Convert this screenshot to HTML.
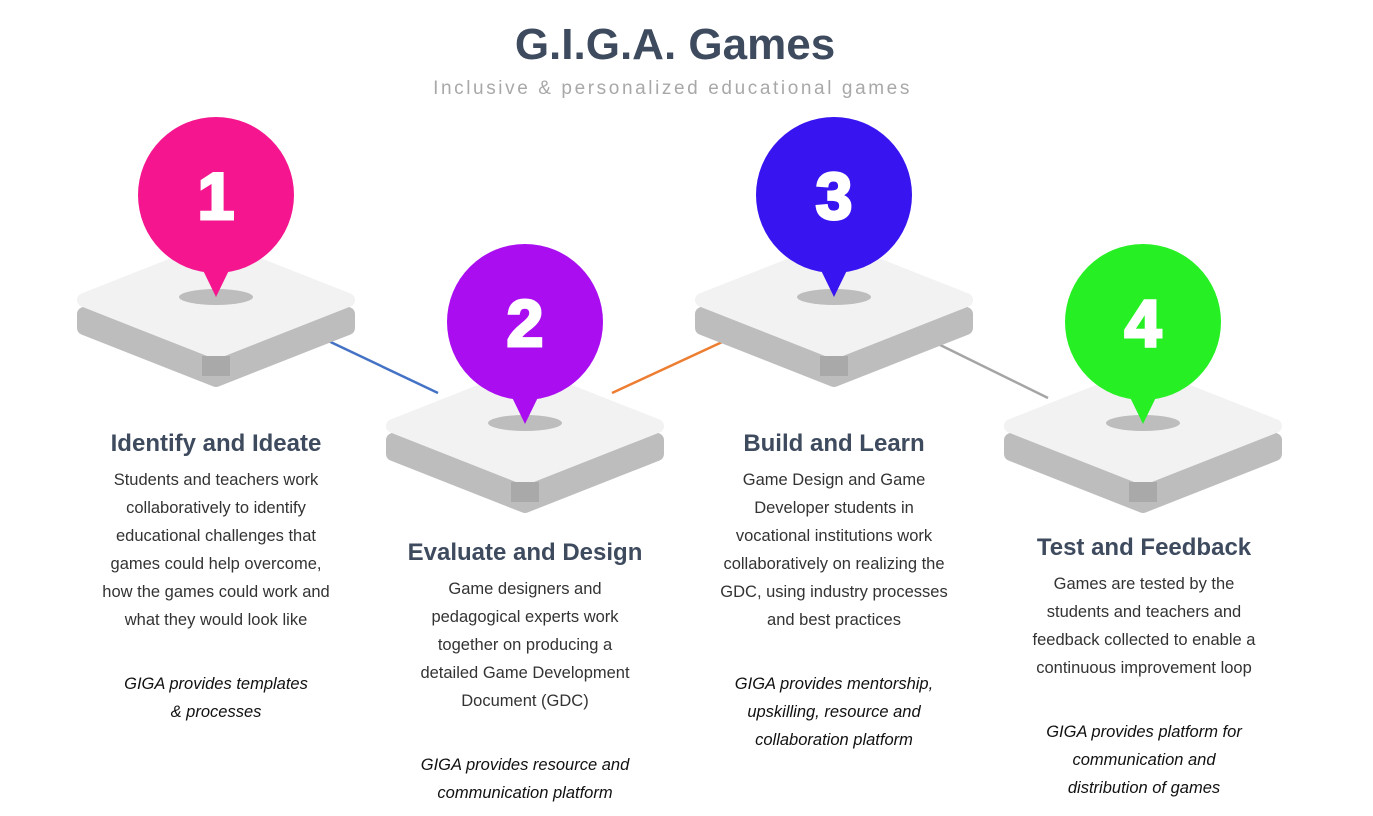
<!DOCTYPE html>
<html><head><style>
body{margin:0;width:1373px;height:816px;background:#fff;overflow:hidden;position:relative;font-family:"Liberation Sans",sans-serif}
.t{position:absolute;text-align:center;color:#3e4a5e}
h1{position:absolute;left:0;width:1350px;top:20px;margin:0;text-align:center;font-size:44px;font-weight:bold;color:#3e4a5e}
.sub{position:absolute;left:0;width:1345px;top:78px;text-align:center;font-size:19px;letter-spacing:2.6px;color:#a8a8a8}
.h{font-size:24px;font-weight:bold;white-space:nowrap}
.b{font-size:16.5px;line-height:28px;color:#333;margin-top:8px;white-space:nowrap}
.i{font-size:16.5px;line-height:28px;font-style:italic;color:#111;margin-top:36px;white-space:nowrap}
</style></head><body>
<svg width="1373" height="816" style="position:absolute;left:0;top:0">
<defs>
<g id="p">
<path d="M-132,14 L0,-38 L132,14 L132,28 L0,80 L-132,28Z" fill="#bdbdbd" stroke="#bdbdbd" stroke-width="14" stroke-linejoin="round"/>
<path d="M-132,0 L0,-52 L132,0 L0,52Z" fill="#f2f2f2" stroke="#f2f2f2" stroke-width="14" stroke-linejoin="round"/>
<rect x="-14" y="56" width="28" height="20" fill="#a9a9a9"/>
<ellipse cx="0" cy="-3" rx="37" ry="8" fill="#bdbdbd"/>
</g>
</defs>
<line x1="320" y1="337" x2="438" y2="393" stroke="#4472c4" stroke-width="2.5"/>
<line x1="612" y1="393" x2="733" y2="337" stroke="#ed7d31" stroke-width="2.5"/>
<line x1="930" y1="340" x2="1048" y2="398" stroke="#a5a5a5" stroke-width="2.5"/>
<use href="#p" x="216" y="300"/>
<use href="#p" x="525" y="426"/>
<use href="#p" x="834" y="300"/>
<use href="#p" x="1143" y="426"/>
<g font-family="Liberation Sans" font-weight="bold" font-size="66" fill="#fff" stroke="#fff" stroke-width="3" text-anchor="middle">
<circle cx="216" cy="195" r="78" fill="#f5168f" stroke="none"/><path d="M198,260 L216,297 L234,260Z" fill="#f5168f" stroke="none"/><text x="216" y="219">1</text>
<circle cx="525" cy="322" r="78" fill="#aa0ef0" stroke="none"/><path d="M507,387 L525,424 L543,387Z" fill="#aa0ef0" stroke="none"/><text x="525" y="346">2</text>
<circle cx="834" cy="195" r="78" fill="#3714f0" stroke="none"/><path d="M816,260 L834,297 L852,260Z" fill="#3714f0" stroke="none"/><text x="834" y="219">3</text>
<circle cx="1143" cy="322" r="78" fill="#26f024" stroke="none"/><path d="M1125,387 L1143,424 L1161,387Z" fill="#26f024" stroke="none"/><text x="1143" y="346">4</text>
</g>
</svg>
<h1>G.I.G.A. Games</h1>
<div class="sub">Inclusive &amp; personalized educational games</div>
<div class="t" style="left:66px;width:300px;top:430px"><div class="h">Identify and Ideate</div>
<div class="b">Students and teachers work<br>collaboratively to identify<br>educational challenges that<br>games could help overcome,<br>how the games could work and<br>what they would look like</div>
<div class="i">GIGA provides templates<br>&amp; processes</div></div>
<div class="t" style="left:375px;width:300px;top:539px"><div class="h">Evaluate and Design</div>
<div class="b">Game designers and<br>pedagogical experts work<br>together on producing a<br>detailed Game Development<br>Document (GDC)</div>
<div class="i">GIGA provides resource and<br>communication platform</div></div>
<div class="t" style="left:684px;width:300px;top:430px"><div class="h">Build and Learn</div>
<div class="b">Game Design and Game<br>Developer students in<br>vocational institutions work<br>collaboratively on realizing the<br>GDC, using industry processes<br>and best practices</div>
<div class="i">GIGA provides mentorship,<br>upskilling, resource and<br>collaboration platform</div></div>
<div class="t" style="left:994px;width:300px;top:534px"><div class="h">Test and Feedback</div>
<div class="b">Games are tested by the<br>students and teachers and<br>feedback collected to enable a<br>continuous improvement loop</div>
<div class="i">GIGA provides platform for<br>communication and<br>distribution of games</div></div>
</body></html>
